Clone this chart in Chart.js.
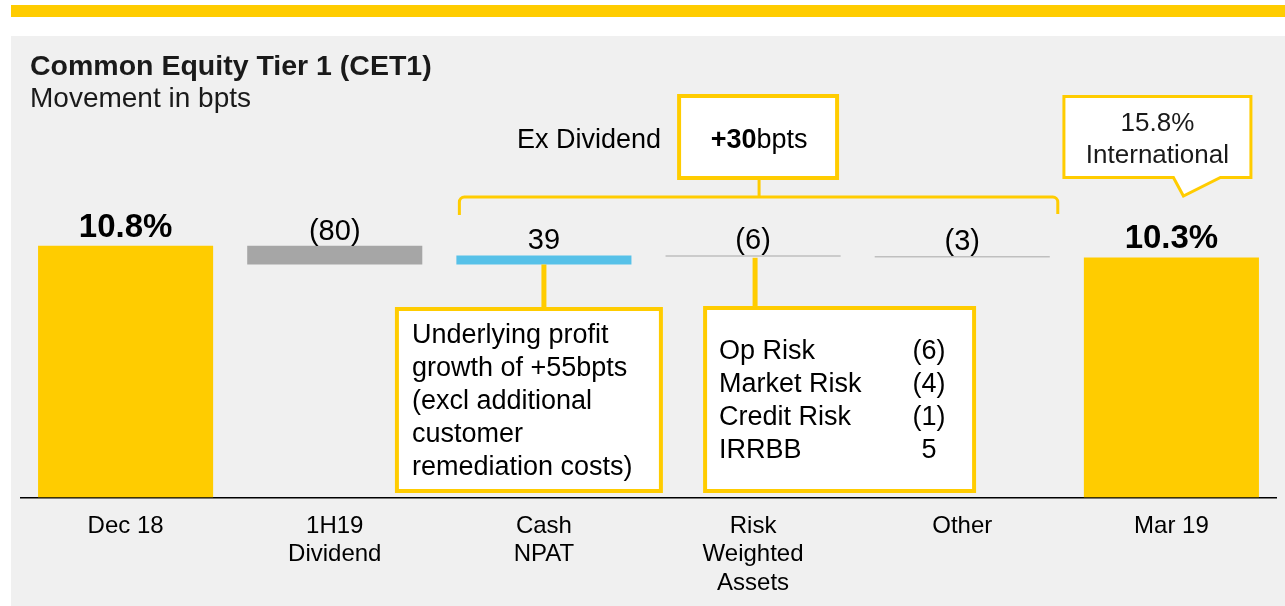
<!DOCTYPE html>
<html>
<head>
<meta charset="utf-8">
<script src="https://cdn.jsdelivr.net/npm/chart.js@4.4.1/dist/chart.umd.min.js"></script>
<style>
html,body{margin:0;padding:0;background:#fff;overflow:hidden}
#wrap{position:relative;width:1285px;height:606px;overflow:hidden}
#stripe{position:absolute;left:11px;top:5px;width:1274px;height:12px;background:#ffcc00}
#panel{position:absolute;left:11px;top:36px;width:1274px;height:570px;background:#f0f0f0}
#chart{position:absolute;left:0;top:0}
</style>
</head>
<body>
<div id="wrap">
  <div id="stripe"></div>
  <div id="panel"></div>
  <canvas id="chart" width="1285" height="622"></canvas>
</div>
<script>
'use strict'

// data
const categories = [['Dec 18'], ['1H19', 'Dividend'], ['Cash', 'NPAT'], ['Risk', 'Weighted', 'Assets'], ['Other'], ['Mar 19']]
const openingRatio = 10.8   // % at Dec 18
const closingRatio = 10.3   // % at Mar 19
const movementsBps = [-80, 39, -6, -3]
const barColors = ['#ffcc00', '#a6a6a6', '#57c1e8', '#bfbfbf', '#bfbfbf', '#ffcc00']
const exDividendText = ['+30', 'bpts']
const internationalText = ['15.8%', 'International']
const npatNote = ['Underlying profit', 'growth of +55bpts', '(excl additional', 'customer', 'remediation costs)']
const rwaItems = ['Op Risk', 'Market Risk', 'Credit Risk', 'IRRBB']
const rwaValues = ['(6)', '(4)', '(1)', '5']

const FONT = "'Liberation Sans', Arial, sans-serif"
const YELLOW = '#ffcc00'

//////////////////////////////////////////////////////////////
// waterfall floats: [from, to] for each column
//////////////////////////////////////////////////////////////
let floats = [[0, openingRatio]]
let valueLabels = [openingRatio.toFixed(1) + '%']
let level = openingRatio
movementsBps.forEach(m => {
    const next = level + m / 100
    floats.push([Math.min(level, next), Math.max(level, next)])
    valueLabels.push(m < 0 ? '(' + Math.abs(m) + ')' : String(m))
    level = next
})
floats.push([0, closingRatio])
valueLabels.push(closingRatio.toFixed(1) + '%')

function fmtFont(size, bold){
    return (bold ? 'bold ' : '') + size + 'px ' + FONT
}

function whiteBox(ctx, l, t, r, b, lw){
    ctx.fillStyle = '#fff'
    ctx.fillRect(l, t, r - l, b - t)
    ctx.strokeStyle = YELLOW
    ctx.lineWidth = lw
    ctx.strokeRect(l + lw / 2, t + lw / 2, r - l - lw, b - t - lw)
}

const annotations = {
    id: 'annotations',
    afterDatasetsDraw(chart){
        const ctx = chart.ctx
        const bars = chart.getDatasetMeta(0).data
        ctx.save()

        // title
        ctx.fillStyle = '#1a1a1a'
        ctx.textAlign = 'left'
        ctx.textBaseline = 'alphabetic'
        ctx.font = fmtFont(28.5, true)
        ctx.fillText('Common Equity Tier 1 (CET1)', 30, 75)
        ctx.font = fmtFont(28, false)
        ctx.fillText('Movement in bpts', 30, 107)

        // value labels over each bar
        bars.forEach((el, i) => {
            const top = Math.min(el.y, el.base)
            const isTotal = i == 0 || i == bars.length - 1
            ctx.font = fmtFont(isTotal ? 33 : 29, isTotal)
            ctx.textAlign = 'center'
            ctx.fillStyle = '#000'
            ctx.fillText(valueLabels[i], el.x, top - (isTotal ? 9 : 6))
        })

        const cash = bars[2], rwa = bars[3], other = bars[4], mar = bars[5]

        // bracket over the ex-dividend moves
        const bl = cash.x - cash.width / 2 + 3
        const br = other.x + other.width / 2 + 8
        const by = 197
        const nx = rwa.x + 6
        ctx.strokeStyle = YELLOW
        ctx.lineWidth = 3
        ctx.beginPath()
        ctx.moveTo(bl, 215)
        ctx.lineTo(bl, by + 5)
        ctx.arcTo(bl, by, bl + 5, by, 5)
        ctx.lineTo(br - 5, by)
        ctx.arcTo(br, by, br, by + 5, 5)
        ctx.lineTo(br, 214)
        ctx.moveTo(nx, 178)
        ctx.lineTo(nx, by)
        ctx.stroke()

        // +30bpts box
        whiteBox(ctx, nx - 82, 94, nx + 80, 180, 4)
        ctx.fillStyle = '#000'
        ctx.font = fmtFont(27, true)
        const w1 = ctx.measureText(exDividendText[0]).width
        ctx.font = fmtFont(27, false)
        const w2 = ctx.measureText(exDividendText[1]).width
        const tx = nx - (w1 + w2) / 2
        ctx.textAlign = 'left'
        ctx.font = fmtFont(27, true)
        ctx.fillText(exDividendText[0], tx, 148)
        ctx.font = fmtFont(27, false)
        ctx.fillText(exDividendText[1], tx + w1, 148)
        ctx.textAlign = 'right'
        ctx.fillText('Ex Dividend', nx - 98, 148)

        // International callout
        const cl = mar.x - 109, cr = mar.x + 81, ct = 95, cb = 179
        ctx.beginPath()
        ctx.moveTo(cl + 1.5, ct + 1.5)
        ctx.lineTo(cr - 1.5, ct + 1.5)
        ctx.lineTo(cr - 1.5, cb - 1.5)
        ctx.lineTo(mar.x + 49, cb - 1.5)
        ctx.lineTo(mar.x + 12, 196)
        ctx.lineTo(mar.x + 2, cb - 1.5)
        ctx.lineTo(cl + 1.5, cb - 1.5)
        ctx.closePath()
        ctx.fillStyle = '#fff'
        ctx.fill()
        ctx.strokeStyle = YELLOW
        ctx.lineWidth = 3
        ctx.stroke()
        ctx.fillStyle = '#1a1a1a'
        ctx.textAlign = 'center'
        ctx.font = fmtFont(26, false)
        ctx.fillText(internationalText[0], (cl + cr) / 2, 131)
        ctx.fillText(internationalText[1], (cl + cr) / 2, 163)

        // cash NPAT note
        ctx.strokeStyle = YELLOW
        ctx.lineWidth = 5
        ctx.beginPath()
        ctx.moveTo(cash.x, Math.max(cash.y, cash.base))
        ctx.lineTo(cash.x, 308)
        ctx.stroke()
        whiteBox(ctx, cash.x - 149, 307, cash.x + 119, 493, 4)
        ctx.fillStyle = '#000'
        ctx.textAlign = 'left'
        ctx.font = fmtFont(27, false)
        npatNote.forEach((line, i) => {
            ctx.fillText(line, cash.x - 132, 343 + i * 33)
        })

        // RWA breakdown
        ctx.strokeStyle = YELLOW
        ctx.lineWidth = 5
        ctx.beginPath()
        ctx.moveTo(rwa.x + 2, Math.max(rwa.y, rwa.base) + 1)
        ctx.lineTo(rwa.x + 2, 307)
        ctx.stroke()
        whiteBox(ctx, rwa.x - 50, 306, rwa.x + 223, 493, 4)
        ctx.fillStyle = '#000'
        ctx.font = fmtFont(27, false)
        rwaItems.forEach((item, i) => {
            ctx.textAlign = 'left'
            ctx.fillText(item, rwa.x - 34, 359 + i * 33)
            ctx.textAlign = 'center'
            ctx.fillText(rwaValues[i], rwa.x + 176, 359 + i * 33)
        })

        ctx.restore()
    }
}

const ctx = document.getElementById('chart')
const chart = new Chart(ctx, {
    type: 'bar',
    data: {
        labels: categories,
        datasets: [{
            data: floats,
            backgroundColor: barColors,
            borderWidth: 0,
            minBarLength: 1.5,
            barPercentage: 0.837,
            categoryPercentage: 1
        }]
    },
    options: {
        responsive: false,
        animation: false,
        layout: {padding: {left: 21, right: 9, top: 78, bottom: 10}},
        plugins: {
            legend: {display: false},
            tooltip: {enabled: false}
        },
        scales: {
            x: {
                grid: {display: false, drawTicks: false},
                border: {display: true, color: '#000', width: 1.5},
                ticks: {
                    color: '#000',
                    font: {family: FONT, size: 24, lineHeight: 1.2},
                    padding: 14,
                    maxRotation: 0,
                    autoSkip: false
                }
            },
            y: {display: false, min: 0, max: 18}
        }
    },
    plugins: [annotations]
})
</script>
</body>
</html>
